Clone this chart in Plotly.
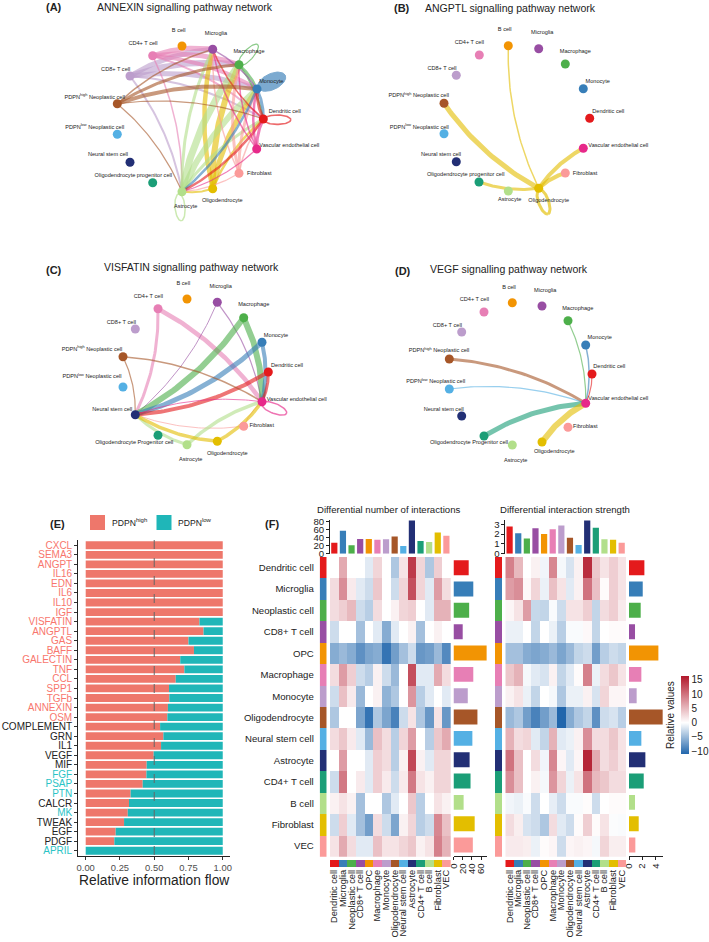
import numpy as np
import plotly.graph_objects as go

W, H = 709, 942

# node ids for the four networks
BC, MG, MP, MO, DC, VE, FB, OL, AS, OP, NS, LO, HI, C8, C4 = range(15)

NODE_COLORS = ['#F29403', '#984EA3', '#4DAF4A', '#377EB8', '#E41A1C', '#E7298A', '#FB9A99', '#E3BE00',
               '#B2DF8A', '#1B9E77', '#222F75', '#54B0E4', '#A65628', '#BC9DCC', '#E77FB5']
HI_LABEL = 'PDPN<sup>high</sup> Neoplastic cell'
LO_LABEL = 'PDPN<sup>low</sup> Neoplastic cell'
NODE_NAMES = ['B cell', 'Microglia', 'Macrophage', 'Monocyte', 'Dendritic cell', 'Vascular endothelial cell',
              'Fibroblast', 'Oligodendrocyte', 'Astrocyte', 'Oligodendrocyte progenitor cell', 'Neural stem cell',
              LO_LABEL, HI_LABEL, 'CD8+ T cell', 'CD4+ T cell']
NODE_NAMES_CAP = NODE_NAMES[:9] + ['Oligodendrocyte Progenitor cell'] + NODE_NAMES[10:]

NODES_AX = [182, 212.7, 239, 257, 263.3, 256.7, 239, 212.7, 182, 152.7, 130, 117.3, 117.3, 130, 152.7]
NODES_AY = [46, 49.3, 64.7, 89, 119, 149, 173.3, 188.7, 191.7, 182.7, 162.3, 134.3, 103.7, 76, 55.7]
LABELS_AX = [178.7, 216, 249, 271.3, 284.7, 289.3, 259.3, 222.3, 185.7, 133.3, 108, 94.7, 94.7, 115.7, 143]
LABELS_AY = [31, 33.7, 52, 82, 111.7, 145.3, 173.3, 201, 207, 176, 154.7, 127.3, 97.3, 69.3, 43.3]
EDGES_A = [
    (C8, MG, 5), (C8, MP, 6), (C8, MO, 5), (C8, DC, 2), (C8, AS, 2),
    (C4, MG, 5), (C4, MP, 5), (C4, MO, 4), (C4, DC, 2), (C4, AS, 1.5),
    (OL, MG, 4.5), (OL, MP, 6), (OL, MO, 5), (OL, DC, 2.5), (OL, AS, 2),
    (AS, MG, 3), (AS, MP, 7), (AS, MO, 6), (AS, DC, 3),
    (FB, MG, 1.5), (FB, MP, 3), (FB, MO, 3), (FB, DC, 1.5), (FB, AS, 1.2),
    (MO, AS, 2.5), (DC, AS, 2.5), (MP, MO, 2.5), (MP, DC, 2), (MO, DC, 3),
    (VE, MG, 1.5), (VE, MP, 1.5), (VE, MO, 2.5), (VE, DC, 3), (VE, AS, 1.2),
    (MG, MO, 1.5), (DC, MO, 3), (DC, MG, 1.5),
    (HI, MG, 1.5), (HI, MP, 3), (HI, MO, 4), (HI, DC, 1.2), (HI, AS, 1.2),
]
# self loops: node, centre x, centre y, half length, half width, angle, line width, filled
LOOPS_A = [(MP, 248.3, 55, 14, 5, -48, 1.2, False), (MO, 271.7, 81.7, 15, 8, -25, 1, True),
           (DC, 277.3, 119.7, 13.5, 4.7, 0, 1.6, False), (AS, 180, 207.3, 13.5, 5, 85, 1.5, False)]

NODES_BX = [508.3, 538.7, 565.3, 583.3, 589.7, 583.3, 565.3, 538.7, 508.3, 479, 456.3, 444, 444, 456.3, 479.3]
NODES_BY = [45.7, 48.7, 64, 88.7, 118.3, 148.3, 173, 188.3, 191, 182, 161.7, 133.7, 103.3, 75.3, 55]
LABELS_BX = [504.7, 542.3, 575.3, 597.7, 608.3, 618.3, 585, 548.7, 509.7, 465.7, 441, 419.3, 418.7, 442, 469.3]
LABELS_BY = [30, 32.7, 51.3, 81.7, 111.7, 145.7, 173.3, 200.3, 200, 175, 155, 127.3, 96, 68.7, 42.7]
EDGES_B = [(OL, HI, 5), (OL, BC, 1.5), (OL, OP, 3), (OL, VE, 4), (OL, FB, 4)]
LOOPS_B = [(OL, 543.5, 201.7, 13, 5, 70, 3, False)]

NODES_CX = [187, 217.3, 243.7, 262, 268.3, 262, 243.7, 217.3, 187, 158, 135.3, 123, 123, 135.3, 158]
NODES_CY = [299, 302.3, 317.7, 342.3, 372, 401.7, 426.3, 441.3, 444.7, 435.3, 414.7, 387, 356.7, 329, 308.7]
LABELS_CX = [183.3, 220.7, 253.7, 276, 287, 296.7, 261.7, 227.3, 190.7, 134.3, 112.3, 92, 92, 121.3, 148.3]
LABELS_CY = [284, 287, 305, 335.3, 365.3, 399.3, 426, 453.3, 460, 442.7, 410, 377, 349.3, 322.3, 296.7]
EDGES_C = [
    (C4, NS, 3), (C4, VE, 4.5), (MG, NS, 1), (MG, VE, 1.2), (MP, NS, 6), (MP, VE, 6), (MO, NS, 5), (MO, VE, 4),
    (DC, NS, 4), (DC, VE, 3), (HI, NS, 1.2), (HI, VE, 1.5), (NS, VE, 1, VE), (FB, NS, 1), (FB, VE, 1),
    (AS, NS, 3), (AS, VE, 3.5), (OL, NS, 3.5), (VE, OL, 3.5, OL),
]
LOOPS_C = [(VE, 274, 408.3, 13.5, 5, 22, 1.5, False)]

NODES_DX = [512.3, 542, 568, 585.7, 592, 585.7, 568, 542, 512.3, 484, 461.7, 449.3, 449.3, 461.7, 484]
NODES_DY = [302.7, 306, 320.7, 345, 374, 403.3, 427.3, 442, 445, 436, 416, 389, 359, 332, 312]
LABELS_DX = [509, 545.3, 577.7, 599.7, 609.3, 618.3, 585.3, 554.3, 515.7, 469, 443.7, 435.7, 439, 447.3, 474.3]
LABELS_DY = [288, 290.7, 308.7, 337.7, 367, 399, 427, 452, 460.3, 442.7, 409.7, 382, 351, 325.3, 300]
EDGES_D = [(MP, VE, 1.2), (MO, VE, 1.5), (DC, VE, 1.2), (HI, VE, 3), (LO, VE, 1.2), (OP, VE, 5), (OL, VE, 6)]

# panel E
SIGNALS = ['CXCL', 'SEMA3', 'ANGPT', 'IL16', 'EDN', 'IL6', 'IL10', 'IGF', 'VISFATIN', 'ANGPTL', 'GAS', 'BAFF',
           'GALECTIN', 'TNF', 'CCL', 'SPP1', 'TGFb', 'ANNEXIN', 'OSM', 'COMPLEMENT', 'GRN', 'IL1', 'VEGF', 'MIF',
           'FGF', 'PSAP', 'PTN', 'CALCR', 'MK', 'TWEAK', 'EGF', 'PDGF', 'APRIL']
SHARE_HIGH = [1, 1, 1, 1, 1, 1, 1, 1, 0.83, 0.86, 0.75, 0.79, 0.69, 0.72, 0.657, 0.608, 0.61, 0.6, 0.596, 0.543,
              0.567, 0.55, 0.496, 0.445, 0.443, 0.416, 0.328, 0.316, 0.307, 0.28, 0.219, 0.209, 0]
SHARE_LOW = [round(1 - v, 3) for v in SHARE_HIGH]
SIGNAL_GROUP = ['h'] * 19 + ['n'] * 5 + ['l', 'l', 'l', 'n', 'l', 'n', 'n', 'n', 'l']
E_TICKS = [0, 0.25, 0.5, 0.75, 1]

# panel F
CELLS = ['Dendritic cell', 'Microglia', 'Neoplastic cell', 'CD8+ T cell', 'OPC', 'Macrophage', 'Monocyte',
         'Oligodendrocyte', 'Neural stem cell', 'Astrocyte', 'CD4+ T cell', 'B cell', 'Fibroblast', 'VEC']
CELL_COLORS = ['#E41A1C', '#377EB8', '#4DAF4A', '#984EA3', '#F29403', '#E77FB5', '#BC9DCC', '#A65628', '#54B0E4',
               '#222F75', '#1B9E77', '#B2DF8A', '#E3BE00', '#FB9A99']
NUM_TOP = [27.5, 57.5, 21, 37, 37, 35, 36, 43, 19, 83, 32, 29, 53, 45]
NUM_RIGHT = [33, 43, 34, 20, 72, 43, 31, 52, 41, 35, 37, 22, 46, 42]
STR_TOP = [2.77, 2.08, 1.54, 2.6, 2.0, 2.5, 2.87, 1.64, 0.89, 3.38, 2.66, 1.47, 1.43, 1.13]
STR_RIGHT = [2.33, 2.08, 1.77, 0.91, 4.45, 1.87, 1.16, 5.1, 1.87, 2.48, 2.23, 0.91, 1.47, 0.96]
NUM_MATRIX = [
    [0, 6, 0, 0, -1.5, 3, 0, -4, 2, 14, 3, -4, 3.5, 0],
    [2.5, 8, 1.5, -1.5, -2.5, 4, 0, -2.5, 3, 12.5, 3, -1.5, 7, 2.5],
    [2.5, 3.5, 5, -2.5, -3.5, 2.5, 0, 1, 3, 3.5, 0, -1.5, 5.5, 5.5],
    [-2.5, 0, 0, -4.5, 0, -1.5, -6, -1.5, 0, 1, -4.5, 0, 1, 0],
    [-6, -5, -6, -8, -6.5, -6, -10, -7, -4.5, -2.5, -7.5, -7, -5, -8.5],
    [2.5, 7, 3.5, -2.5, -3.5, 1, -2.5, -5, 0, 12.5, -1.5, -1.5, 6, 2.5],
    [-2.5, 4.5, 1.5, -5, 0, 1, -5.5, -4, 0, 7.5, -3.5, -1.5, 0, -1.5],
    [-4, 0, 0, -6.5, -10, -4, -6.5, -9, -2.5, 2, -4, -7.5, 2, -7.5],
    [2.5, 4, 1.5, -1.5, -5, 4.5, 2.5, -3.5, 3, 7, 0, -3.5, 4, 6],
    [0, 7, 0, 0, -1.5, 3.5, 2.5, -3.5, 1, 13, 1, -1.5, 3, 3],
    [-2.5, 9.5, 0, 1.5, -1.5, 3.5, 1.5, -2.5, 1.5, 9.5, 2, 1, 3, 3],
    [1, 2, 1, -4.5, 0, 0, -4, -1.5, 0, 4, -3.5, 0, 2, 1],
    [-2.5, 3.5, -1.5, -4.5, -7, 2.5, -2.5, -6.5, 1, 3, -3.5, -2.5, 8.5, 4.5],
    [2, 6, 2.5, -1.5, -1.5, 4.5, 2, 2, 3, 4, 1, 2, 9, 5.5],
]
STR_MATRIX = [
    [9, 5, 0, 1, -0.7, 8.5, -0.5, -2, 1, 15, 4, 2, 3.5, 2],
    [7, 8, 0.5, 3, -1, 4.5, 2, -1.5, 1, 10, 4.5, 0.3, 3.5, 2],
    [0.7, 2, 7, -2.8, -3, -0.3, -2.5, 2, 2, 3.5, -3, 2.5, 3.5, 1.5],
    [-1, -1, 0, -3, 0, -1, -3.5, -0.3, -0.3, 0.5, -3, 0, 0.3, 0.3],
    [-4.5, -4.5, -6, -6.5, -6, -5, -6.5, -5, -3, -2.5, -7, -3.5, -2.5, -3],
    [4, 5.5, -0.5, -1.5, -2, 1, -3, -1.5, 0.3, 9, -1, 2.5, 4, 2],
    [1, 2, -1, -3, 0, -0.5, -4, -1, -1, 1, -2, 3, 0.7, 0.7],
    [-5, -4, -7, -9, -7, -5, -11, -6, -4, -3, -8, -2.5, -2, -3.5],
    [5.5, 2.5, 3, -1.5, -3, 5.5, -1.5, -1, 1, 8, 2.5, 2.5, 4, 2],
    [10, 4.5, 0, 2.5, -0.7, 8.5, 0.7, -1.5, 0.7, 15.5, 6, 2.5, 3.5, 2],
    [8, 4.5, 0, 1, -0.5, 7.5, 3, -1, 2, 10, 5, 4, 2.5, 2.5],
    [-0.7, -1, -0.3, -2.5, 0, -1.2, -2.5, -0.3, -0.3, 0.2, -2.5, 0, 0.3, 0.3],
    [2.5, 1.2, -2, -2.5, -4, 2.5, -1.5, -2.5, 0.3, 3.5, 0.3, 2, -0.2, -0.3],
    [1.5, 1.5, 1.2, -1, 0.3, 0.7, -2.5, 0.7, 1, 0.7, -0.5, 3, 1.2, 1.2],
]
COLORBAR_TICKS = [-10, -5, 0, 5, 10, 15]
ZMIN, ZMAX = -11, 16.4

FONT = 'Liberation Sans'
DARK = '#222222'
fig = go.Figure()
layout_axes = {}
axis_count = 0


def add_axes(x0, x1, y0, y1, xkw=None, ykw=None):
    # pixel box -> one x/y axis pair, returns the trace refs
    global axis_count
    axis_count += 1
    n = axis_count
    base = dict(showgrid=False, zeroline=False, showticklabels=False, ticks='', showline=False)
    xa = dict(base, domain=[x0 / W, x1 / W], anchor='y%d' % n)
    ya = dict(base, domain=[1 - y1 / H, 1 - y0 / H], anchor='x%d' % n)
    xa.update(xkw or {})
    ya.update(ykw or {})
    layout_axes['xaxis%d' % n] = xa
    layout_axes['yaxis%d' % n] = ya
    return 'x%d' % n, 'y%d' % n


def note(x, y, text, size, color=DARK, bold=False, anchor='center', angle=0):
    if bold:
        text = '<b>%s</b>' % text
    fig.add_annotation(x=x, y=y, xref='x1', yref='y1', text=text, showarrow=False, xanchor=anchor, yanchor='middle',
                       textangle=angle, font=dict(size=size, color=color, family=FONT))


def bezier(x0, y0, x1, y1, curve=0.12):
    dx, dy = x1 - x0, y1 - y0
    cx, cy = (x0 + x1) / 2 + curve * dy, (y0 + y1) / 2 - curve * dx
    t = np.linspace(0, 1, 40)
    return (1 - t) ** 2 * x0 + 2 * t * (1 - t) * cx + t ** 2 * x1, (1 - t) ** 2 * y0 + 2 * t * (1 - t) * cy + t ** 2 * y1


def draw_network(xs, ys, lx, ly, edges, loops, names):
    for e in edges:
        s, d, w = e[:3]
        col = NODE_COLORS[e[3] if len(e) > 3 else s]
        px, py = bezier(xs[s], ys[s], xs[d], ys[d])
        fig.add_trace(go.Scatter(x=px, y=py, mode='lines', line=dict(color=col, width=w), opacity=0.6,
                                 xaxis='x1', yaxis='y1', hoverinfo='skip', showlegend=False))
    for node, cx, cy, a, b, ang, w, filled in loops:
        t = np.linspace(0, 2 * np.pi, 60)
        r = np.radians(ang)
        ex = cx + a * np.cos(t) * np.cos(r) - b * np.sin(t) * np.sin(r)
        ey = cy + a * np.cos(t) * np.sin(r) + b * np.sin(t) * np.cos(r)
        fig.add_trace(go.Scatter(x=ex, y=ey, mode='lines', line=dict(color=NODE_COLORS[node], width=w), opacity=0.65,
                                 fill='toself' if filled else None, fillcolor=NODE_COLORS[node],
                                 xaxis='x1', yaxis='y1', hoverinfo='skip', showlegend=False))
    fig.add_trace(go.Scatter(x=xs, y=ys, mode='markers', marker=dict(color=NODE_COLORS, size=9),
                             xaxis='x1', yaxis='y1', hoverinfo='skip', showlegend=False))
    fig.add_trace(go.Scatter(x=lx, y=ly, mode='text', text=names, textfont=dict(size=5.6, color=DARK, family=FONT),
                             xaxis='x1', yaxis='y1', hoverinfo='skip', showlegend=False))


# full page axis for the networks and the free text
add_axes(0, W, 0, H, dict(range=[0, W], visible=False), dict(range=[H, 0], visible=False))

draw_network(NODES_AX, NODES_AY, LABELS_AX, LABELS_AY, EDGES_A, LOOPS_A, NODE_NAMES)
draw_network(NODES_BX, NODES_BY, LABELS_BX, LABELS_BY, EDGES_B, LOOPS_B, NODE_NAMES)
draw_network(NODES_CX, NODES_CY, LABELS_CX, LABELS_CY, EDGES_C, LOOPS_C, NODE_NAMES_CAP)
draw_network(NODES_DX, NODES_DY, LABELS_DX, LABELS_DY, EDGES_D, [], NODE_NAMES_CAP)

note(54, 7, '(A)', 11, bold=True)
note(402, 7.5, '(B)', 11, bold=True)
note(54, 270, '(C)', 11, bold=True)
note(402.7, 270.7, '(D)', 11, bold=True)
note(57, 524, '(E)', 11, bold=True)
note(272, 524, '(F)', 11, bold=True)
note(185.3, 6.7, 'ANNEXIN signalling pathway network', 10.5)
note(510, 7.7, 'ANGPTL signalling pathway network', 10.5)
note(191, 267.3, 'VISFATIN signalling pathway network', 10.5)
note(509.3, 269.3, 'VEGF signalling pathway network', 10.5)
note(388.3, 509, 'Differential number of interactions', 9.6)
note(565.3, 509, 'Differential interaction strength', 9.6)

# panel E
GROUP_COLORS = {'h': '#F8766D', 'l': '#2BC4C6', 'n': DARK}
HIGH_COLOR, LOW_COLOR = '#EE776B', '#1FB6B8'
ex, ey = add_axes(78.3, 230, 540, 856,
                  dict(range=[-0.054, 1.053], showline=True, linecolor='#222222', linewidth=1.2, ticks='outside',
                       ticklen=3, tickcolor='#333333', tickvals=E_TICKS, ticktext=['%.2f' % v for v in E_TICKS],
                       showticklabels=True, tickfont=dict(size=9.4, color='#4d4d4d', family=FONT)),
                  dict(range=[32.55, -0.55], showline=True, linecolor='#222222', linewidth=1.2, ticks='outside',
                       ticklen=3, tickcolor='#333333', tickvals=list(range(len(SIGNALS))),
                       ticktext=['<span style="color:%s">%s</span>' % (GROUP_COLORS[g], s)
                                 for s, g in zip(SIGNALS, SIGNAL_GROUP)],
                       showticklabels=True, tickfont=dict(size=10, family=FONT)))
rows = list(range(len(SIGNALS)))
fig.add_trace(go.Bar(y=rows, x=SHARE_HIGH, orientation='h', marker=dict(color=HIGH_COLOR, line_width=0), width=0.82,
                     xaxis=ex, yaxis=ey, hoverinfo='skip', showlegend=False))
fig.add_trace(go.Bar(y=rows, x=SHARE_LOW, base=SHARE_HIGH, orientation='h', marker=dict(color=LOW_COLOR, line_width=0),
                     width=0.82, xaxis=ex, yaxis=ey, hoverinfo='skip', showlegend=False))
fig.add_trace(go.Scatter(x=[0.5, 0.5], y=[-0.55, 32.55], mode='lines', xaxis=ex, yaxis=ey,
                         line=dict(color='#666666', width=1, dash='dash'), hoverinfo='skip', showlegend=False))
note(154, 880.7, 'Relative information flow', 13.8)
fig.add_trace(go.Scatter(x=[97.5, 164], y=[522.5, 522.5], mode='markers', marker=dict(symbol='square', size=15,
                         color=[HIGH_COLOR, LOW_COLOR]), xaxis='x1', yaxis='y1', hoverinfo='skip', showlegend=False))
note(110, 522.7, 'PDPN<sup>high</sup>', 8.6, anchor='left')
note(175.7, 522.7, 'PDPN<sup>low</sup>', 8.6, anchor='left')

# panel F
colorscale = [[0, '#2166AC'], [-ZMIN / (ZMAX - ZMIN), '#FFFFFF'], [1, '#B2182B']]
n_cells = len(CELLS)
idx = list(range(n_cells))
strip_scale = []
for i, c in enumerate(CELL_COLORS):
    strip_scale += [[i / n_cells, c], [(i + 1) / n_cells, c]]
side_font = dict(size=9.6, color=DARK, family=FONT)
bottom_font = dict(size=9.3, color=DARK, family=FONT)
cell_range = [-0.5, n_cells - 0.5]
cell_range_rev = [n_cells - 0.5, -0.5]


def draw_heat(x0, matrix, top, right, top_max, top_ticks, right_x0, right_x1, right_max, right_ticks, scale):
    x1 = x0 + 120.7
    hx, hy = add_axes(x0, x1, 557, 856.7, dict(range=cell_range), dict(range=cell_range_rev))
    trace = go.Heatmap(z=matrix, x=idx, y=idx, colorscale=colorscale, zmin=ZMIN, zmax=ZMAX, xaxis=hx, yaxis=hy,
                       hoverinfo='skip', showscale=scale)
    if scale:
        trace.colorbar = dict(x=680.7 / W, xanchor='left', xpad=0, ypad=0, y=1 - 715 / H, yanchor='middle',
                              len=78, lenmode='pixels', thickness=7.6, thicknessmode='pixels', outlinewidth=0,
                              ticks='', tickvals=COLORBAR_TICKS, ticklabelposition='outside',
                              ticktext=[str(v).replace('-', '\u2212') for v in COLORBAR_TICKS],
                              tickfont=dict(size=10, color=DARK, family=FONT))
    fig.add_trace(trace)

    # bars above the matrix
    tx, ty = add_axes(x0, x1, 553.7 - top_max[1], 553.7, dict(range=cell_range),
                      dict(range=[0, top_max[0]], tickvals=top_ticks, showticklabels=True, showline=True,
                           linecolor=DARK, linewidth=0.8, ticks='outside', ticklen=3, tickcolor=DARK, tickfont=side_font))
    fig.add_trace(go.Bar(x=idx, y=top, marker=dict(color=CELL_COLORS, line_width=0), width=0.72, xaxis=tx, yaxis=ty,
                         hoverinfo='skip', showlegend=False))

    # bars right of the matrix
    rx, ry = add_axes(right_x0, right_x1, 557, 855.7,
                      dict(range=[0, right_max], tickvals=right_ticks, showticklabels=True, showline=True,
                           linecolor=DARK, linewidth=0.8, ticks='outside', ticklen=3, tickcolor=DARK, tickangle=-90,
                           tickfont=side_font),
                      dict(range=cell_range_rev))
    fig.add_trace(go.Bar(y=idx, x=right, orientation='h', marker=dict(color=CELL_COLORS, line_width=0), width=0.7,
                         xaxis=rx, yaxis=ry, hoverinfo='skip', showlegend=False))

    # colour strips with the cell names
    lx, ly = add_axes(x0 - 10.3, x0 - 3.3, 557, 856.7, dict(range=[-0.5, 0.5]),
                      dict(range=cell_range_rev, tickvals=idx, ticktext=CELLS, showticklabels=x0 < 400, ticklen=3,
                           ticks='outside', tickcolor='rgba(0,0,0,0)', tickfont=side_font))
    fig.add_trace(go.Heatmap(z=[[i] for i in idx], x=[0], y=idx, colorscale=strip_scale, zmin=-0.5, zmax=n_cells - 0.5,
                             showscale=False, xaxis=lx, yaxis=ly, hoverinfo='skip'))
    bx, by = add_axes(x0, x1, 860, 867,
                      dict(range=cell_range, tickvals=idx, ticktext=CELLS, showticklabels=True, tickangle=-90,
                           tickfont=bottom_font, ticklabeloverflow='allow'),
                      dict(range=[-0.5, 0.5]))
    fig.add_trace(go.Heatmap(z=[idx], x=idx, y=[0], colorscale=strip_scale, zmin=-0.5, zmax=n_cells - 0.5,
                             showscale=False, xaxis=bx, yaxis=by, hoverinfo='skip'))


draw_heat(330, NUM_MATRIX, NUM_TOP, NUM_RIGHT, (84, 33.6), [0, 20, 40, 60, 80], 453.5, 487, 72.8, [0, 20, 40, 60], True)
draw_heat(505.3, STR_MATRIX, STR_TOP, STR_RIGHT, (3.45, 33.8), [0, 1, 2, 3], 629, 663, 5.15, [0, 2, 4], False)
note(670, 715, 'Relative values', 10, angle=-90)

fig.update_layout(
    width=W, height=H, margin=dict(t=0, b=0, l=0, r=0, pad=0, autoexpand=False), autosize=False, paper_bgcolor='white',
    plot_bgcolor='rgba(0,0,0,0)', barmode='overlay', showlegend=False, font=dict(family=FONT), **layout_axes,
)
fig.write_html("out.html", config={'displayModeBar': False},
               post_script="document.body.style.margin='0';document.documentElement.style.overflow='hidden';")
